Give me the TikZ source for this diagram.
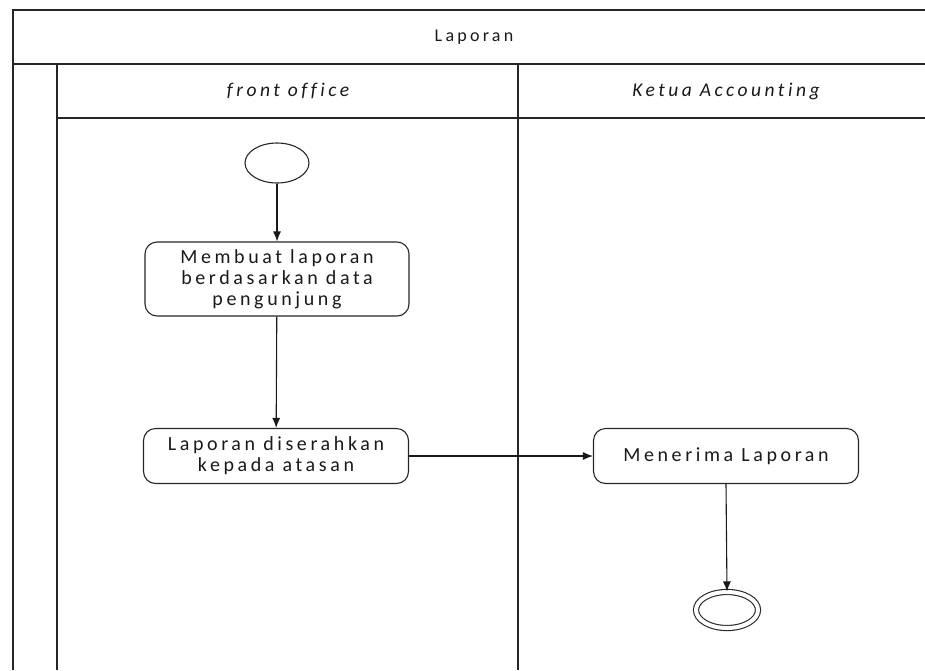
\documentclass[tikz,border=0pt]{standalone}
\usepackage{fontspec}
\setmainfont{Carlito}[LetterSpace=18,Ligatures=NoCommon]
\usetikzlibrary{shapes.geometric,arrows.meta}
\tikzset{
  frame/.style={line width=1.4pt, draw=black!85},
  act/.style={draw=black!85, line width=1.1pt, rounded corners=12pt, align=center,
    font=\fontsize{20}{21}\selectfont, text=black!90, inner sep=2pt},
  hdr/.style={font=\fontsize{19.5}{20}\selectfont\itshape, text=black!90},
  ttl/.style={font=\fontsize{18}{20}\selectfont, text=black!90},
  flow/.style={draw=black!90, line width=1.1pt, -{Latex[length=10pt,width=8pt]}},
  startnode/.style={ellipse, draw=black!85, line width=1.1pt, minimum width=64pt, minimum height=40pt, inner sep=0pt},
  endnode/.style={ellipse, draw=black!85, line width=1.1pt, inner sep=0pt,
    double=white, double distance=4pt}
}
\begin{document}
\begin{tikzpicture}[x=1pt,y=-1pt]
\useasboundingbox (0,0) rectangle (925,670);
% swimlane frame
\draw[frame] (13,670) -- (13,10) -- (925,10);
\draw[frame] (13,64) -- (925,64);
\draw[frame] (57,670) -- (57,64);
\draw[frame] (57,118) -- (925,118);
\draw[frame] (518,64) -- (518,670);
% headings
\node[ttl] (title) at (474,37) {Laporan};
\node[hdr] (h1) at (288,91) {front office};
\node[hdr] (h2) at (726,91) {Ketua Accounting};
% activity nodes
\node[startnode] (start) at (277,163) {};
\node[act, minimum width=264pt, minimum height=74pt] (a1) at (277,279)
  {Membuat laporan\\berdasarkan data\\pengunjung};
\node[act, minimum width=265pt, minimum height=55pt] (a2) at (276,456)
  {Laporan diserahkan\\kepada atasan};
\node[act, minimum width=265pt, minimum height=55pt] (a3) at (726,456)
  {Menerima Laporan};
\node[endnode, minimum width=62pt, minimum height=36pt] (end) at (727,610) {};
% connectors
\draw[flow] (start) -- (a1);
\draw[flow] (a1) -- (a2);
\draw[flow] (a2) -- (a3);
\draw[flow] (a3.south) -- (end.north);
\end{tikzpicture}
\end{document}
